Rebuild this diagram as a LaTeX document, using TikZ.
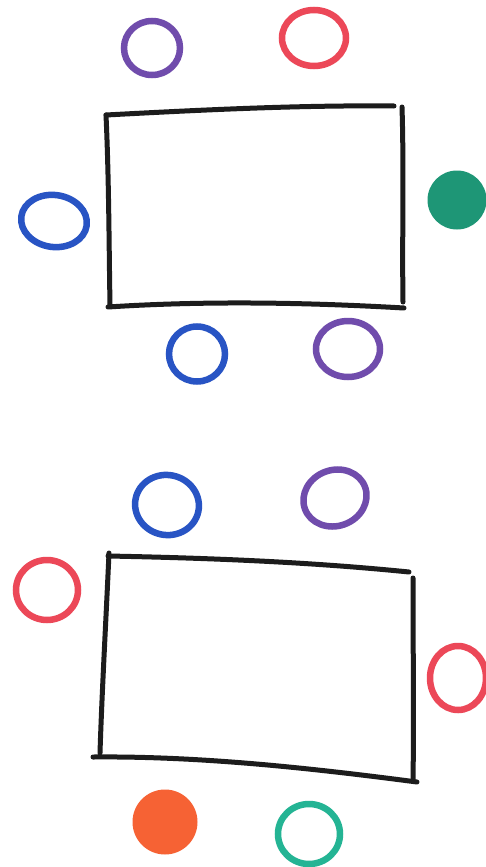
\documentclass[tikz,border=0pt]{standalone}
\definecolor{pen}{RGB}{28,28,28}
\definecolor{cpurple}{RGB}{112,76,172}
\definecolor{cred}{RGB}{236,72,88}
\definecolor{cblue}{RGB}{40,84,196}
\definecolor{cgreen}{RGB}{30,150,118}
\definecolor{cteal}{RGB}{36,180,148}
\definecolor{corange}{RGB}{246,98,52}
\tikzset{
  tableline/.style={draw=pen, line width=5pt, line cap=round},
  seat/.style={line width=6.5pt},
}
\begin{document}
\begin{tikzpicture}[x=1pt,y=-1pt]
\useasboundingbox[fill=white] (0,0) rectangle (486,867);
% ---- top table ----
\draw[tableline] (106,115) .. controls (200,110) and (300,105) .. (394,106);
\draw[tableline] (402,107) .. controls (404,170) and (402,240) .. (403,302);
\draw[tableline] (106,115) .. controls (109,180) and (109,250) .. (110,305);
\draw[tableline] (108,307) .. controls (200,301) and (300,302) .. (404,308);
% seats top table
\draw[seat, draw=cpurple] (152,48) ellipse [x radius=28, y radius=27];
\draw[seat, draw=cred] (314,38) ellipse [x radius=32, y radius=28];
\draw[seat, draw=cblue, rotate around={-8:(54,221)}] (54,221) ellipse [x radius=33, y radius=26];
\fill[cgreen] (457,200) circle [radius=29.5];
\draw[seat, draw=cblue] (197,354) ellipse [x radius=28, y radius=27.5];
\draw[seat, draw=cpurple] (348,349) ellipse [x radius=32, y radius=28];
% ---- bottom table ----
\draw[tableline] (108,556) .. controls (210,558) and (310,562) .. (409,572);
\draw[tableline] (413,578) .. controls (413,650) and (414,720) .. (413,780);
\draw[tableline] (109,553) .. controls (106,620) and (102,690) .. (100,753);
\draw[tableline] (93,757) .. controls (200,756) and (310,768) .. (417,782);
% seats bottom table
\draw[seat, draw=cblue, rotate around={-12:(167,505)}] (167,505) ellipse [x radius=32, y radius=30];
\draw[seat, draw=cpurple, rotate around={20:(335,498)}] (335,498) ellipse [x radius=32, y radius=28];
\draw[seat, draw=cred] (47,590) ellipse [x radius=31, y radius=30];
\draw[seat, draw=cred] (458,678) ellipse [x radius=28, y radius=32];
\fill[corange] (165,822) circle [radius=32.5];
\draw[seat, draw=cteal] (309,834) ellipse [x radius=31, y radius=30];
\end{tikzpicture}
\end{document}
